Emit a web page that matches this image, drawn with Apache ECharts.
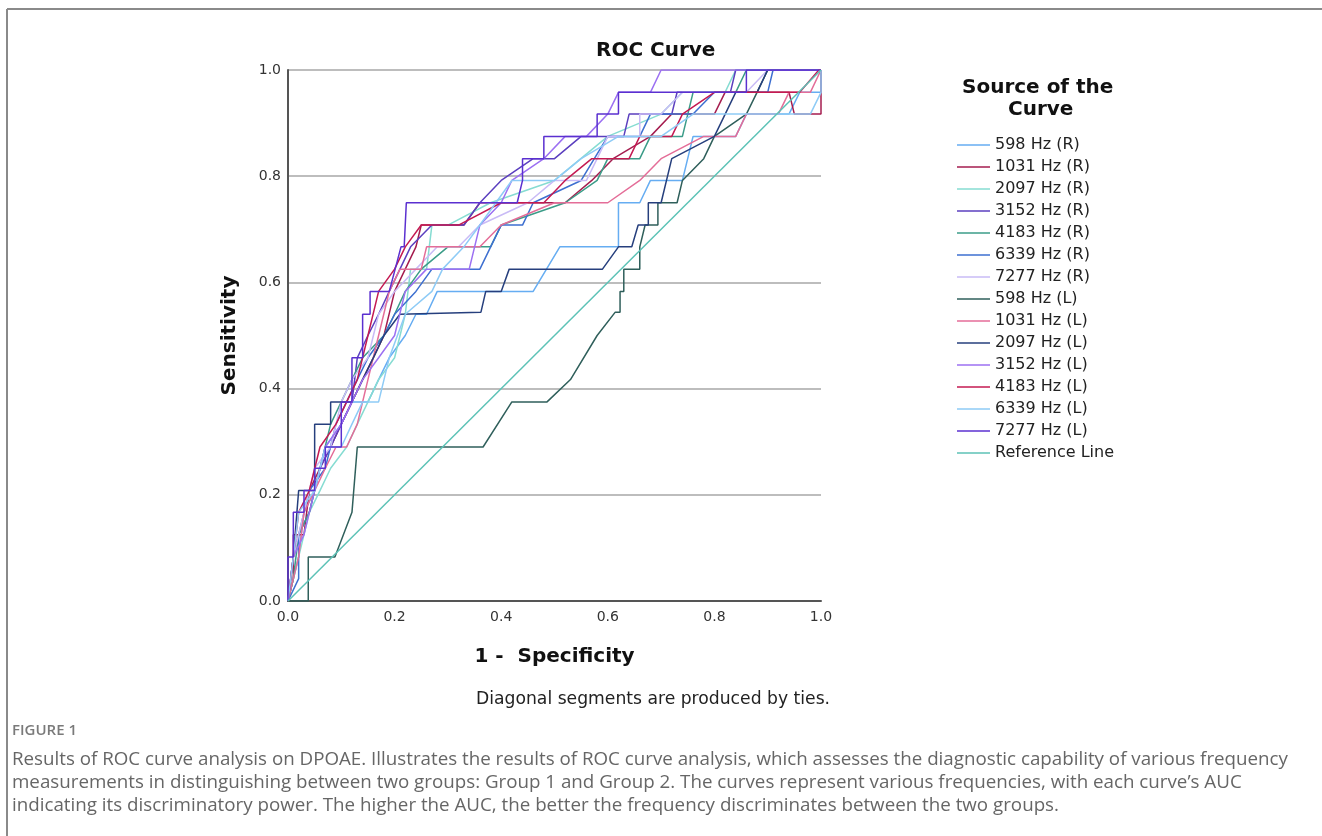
<!DOCTYPE html>
<html>
<head>
<meta charset="utf-8">
<title>ROC Curve</title>
<script src="https://cdn.jsdelivr.net/npm/echarts@6.0.0/dist/echarts.min.js"></script>
<style>
    html, body { margin: 0; padding: 0; background: #fff; }
    #RocChart { width: 1322px; height: 836px; }
</style>
</head>
<body>
<div id="RocChart"></div>
<script>
// series names and colours
var curveNames = ['598 Hz (R)', '1031 Hz (R)', '2097 Hz (R)', '3152 Hz (R)', '4183 Hz (R)', '6339 Hz (R)', '7277 Hz (R)',
                  '598 Hz (L)', '1031 Hz (L)', '2097 Hz (L)', '3152 Hz (L)', '4183 Hz (L)', '6339 Hz (L)', '7277 Hz (L)'];
var curveColors = ['#66adf2', '#a51d4f', '#86dcd2', '#5b3fbf', '#3b9c88', '#3d6fd0', '#c9bbf6',
                   '#2f5f5b', '#e46d98', '#263f7d', '#9c70f2', '#c41a52', '#8ecbf6', '#5b30d0'];
var axisTicks = [0, 0.2, 0.4, 0.6, 0.8, 1.0];

// [1 - specificity, sensitivity]
var hz598R = [[0,0],[0.02,0.083],[0.03,0.167],[0.05,0.208],[0.07,0.29],[0.1,0.333],[0.12,0.375],[0.15,0.375],[0.17,0.417],[0.19,0.458],[0.22,0.5],[0.24,0.54],[0.26,0.54],[0.28,0.583],[0.46,0.583],[0.51,0.667],[0.62,0.667],[0.62,0.75],[0.66,0.75],[0.68,0.792],[0.74,0.792],[0.76,0.875],[0.84,0.875],[0.86,0.917],[0.94,0.917],[0.96,0.958],[1,0.958],[1,1]];
var hz1031R = [[0,0],[0.01,0.042],[0.01,0.125],[0.03,0.125],[0.04,0.208],[0.06,0.25],[0.08,0.29],[0.1,0.333],[0.12,0.375],[0.14,0.417],[0.16,0.458],[0.18,0.5],[0.2,0.583],[0.22,0.625],[0.24,0.667],[0.25,0.708],[0.33,0.708],[0.36,0.75],[0.52,0.75],[0.57,0.792],[0.61,0.833],[0.68,0.875],[0.72,0.917],[0.8,0.917],[0.82,0.958],[0.94,0.958],[0.95,0.917],[1,0.917],[1,1]];
var hz2097R = [[0,0],[0.02,0.083],[0.04,0.167],[0.06,0.208],[0.08,0.25],[0.11,0.29],[0.13,0.333],[0.15,0.375],[0.17,0.417],[0.2,0.458],[0.22,0.54],[0.23,0.625],[0.26,0.625],[0.27,0.708],[0.3,0.708],[0.38,0.75],[0.5,0.792],[0.6,0.875],[0.7,0.917],[0.74,0.958],[0.82,0.958],[0.84,1],[1,1]];
var hz3152R = [[0,0],[0.01,0.083],[0.02,0.125],[0.04,0.167],[0.06,0.25],[0.08,0.29],[0.1,0.333],[0.12,0.375],[0.13,0.458],[0.15,0.5],[0.17,0.54],[0.19,0.583],[0.21,0.625],[0.23,0.667],[0.27,0.708],[0.33,0.708],[0.36,0.75],[0.4,0.792],[0.46,0.833],[0.5,0.833],[0.55,0.875],[0.63,0.875],[0.64,0.917],[0.72,0.917],[0.73,0.958],[0.83,0.958],[0.84,1],[1,1]];
var hz4183R = [[0,0],[0.01,0.042],[0.02,0.125],[0.04,0.167],[0.06,0.25],[0.08,0.333],[0.1,0.375],[0.12,0.417],[0.14,0.458],[0.18,0.5],[0.2,0.54],[0.22,0.583],[0.25,0.625],[0.3,0.667],[0.38,0.667],[0.4,0.708],[0.52,0.75],[0.58,0.792],[0.6,0.833],[0.66,0.833],[0.68,0.875],[0.74,0.875],[0.76,0.958],[0.84,0.958],[0.86,1],[1,1]];
var hz6339R = [[0,0],[0.02,0.042],[0.02,0.125],[0.04,0.208],[0.07,0.25],[0.09,0.333],[0.11,0.375],[0.13,0.417],[0.15,0.458],[0.18,0.5],[0.2,0.54],[0.24,0.583],[0.27,0.625],[0.36,0.625],[0.4,0.708],[0.44,0.708],[0.46,0.75],[0.55,0.792],[0.6,0.875],[0.66,0.875],[0.68,0.917],[0.76,0.917],[0.8,0.958],[0.9,0.958],[0.91,1],[1,1]];
var hz7277R = [[0,0],[0.01,0.083],[0.03,0.167],[0.05,0.25],[0.08,0.29],[0.1,0.375],[0.12,0.417],[0.15,0.458],[0.17,0.54],[0.2,0.583],[0.24,0.625],[0.28,0.667],[0.32,0.667],[0.36,0.708],[0.45,0.75],[0.5,0.792],[0.56,0.792],[0.58,0.833],[0.6,0.875],[0.66,0.875],[0.66,0.917],[0.7,0.917],[0.74,0.958],[0.86,0.958],[0.9,1],[1,1]];
var hz598L = [[0,0],[0.038,0],[0.038,0.083],[0.088,0.083],[0.12,0.167],[0.13,0.29],[0.366,0.29],[0.42,0.375],[0.486,0.375],[0.53,0.417],[0.58,0.5],[0.614,0.544],[0.623,0.544],[0.623,0.583],[0.63,0.583],[0.63,0.625],[0.66,0.625],[0.66,0.667],[0.67,0.708],[0.694,0.708],[0.694,0.75],[0.73,0.75],[0.74,0.792],[0.78,0.833],[0.8,0.875],[0.86,0.917],[0.88,0.958],[0.9,1],[1,1]];
var hz1031L = [[0,0],[0.01,0.042],[0.02,0.083],[0.03,0.167],[0.05,0.208],[0.07,0.25],[0.09,0.29],[0.11,0.29],[0.13,0.333],[0.15,0.417],[0.17,0.5],[0.19,0.583],[0.21,0.625],[0.25,0.625],[0.26,0.667],[0.36,0.667],[0.4,0.708],[0.5,0.75],[0.6,0.75],[0.66,0.792],[0.7,0.833],[0.78,0.875],[0.84,0.875],[0.86,0.917],[0.92,0.917],[0.94,0.958],[0.98,0.958],[1,1]];
var hz2097L = [[0,0],[0.01,0.083],[0.02,0.208],[0.05,0.208],[0.05,0.333],[0.08,0.333],[0.08,0.375],[0.12,0.375],[0.14,0.417],[0.16,0.458],[0.18,0.5],[0.21,0.54],[0.362,0.544],[0.371,0.583],[0.4,0.583],[0.415,0.625],[0.59,0.625],[0.62,0.667],[0.645,0.667],[0.657,0.708],[0.676,0.708],[0.676,0.75],[0.7,0.75],[0.72,0.833],[0.8,0.875],[0.84,0.958],[0.88,0.958],[0.9,1],[1,1]];
var hz3152L = [[0,0],[0.01,0.083],[0.03,0.125],[0.05,0.208],[0.07,0.29],[0.1,0.333],[0.12,0.375],[0.14,0.417],[0.17,0.458],[0.2,0.5],[0.22,0.583],[0.26,0.625],[0.34,0.625],[0.36,0.708],[0.4,0.75],[0.42,0.792],[0.48,0.833],[0.52,0.875],[0.56,0.875],[0.6,0.917],[0.62,0.958],[0.68,0.958],[0.7,1],[1,1]];
var hz4183L = [[0,0],[0.01,0.083],[0.02,0.167],[0.04,0.208],[0.06,0.29],[0.09,0.333],[0.11,0.375],[0.13,0.417],[0.15,0.5],[0.17,0.583],[0.2,0.625],[0.22,0.667],[0.25,0.708],[0.32,0.708],[0.4,0.75],[0.48,0.75],[0.52,0.792],[0.57,0.833],[0.64,0.833],[0.66,0.875],[0.72,0.875],[0.74,0.917],[0.8,0.958],[0.96,0.958],[0.996,1],[1,1]];
var hz6339L = [[0,0],[0.01,0.083],[0.02,0.167],[0.05,0.208],[0.07,0.29],[0.1,0.29],[0.12,0.333],[0.14,0.375],[0.17,0.375],[0.19,0.458],[0.22,0.54],[0.27,0.583],[0.29,0.625],[0.33,0.667],[0.36,0.708],[0.39,0.75],[0.42,0.792],[0.5,0.792],[0.55,0.833],[0.62,0.875],[0.7,0.875],[0.76,0.917],[0.98,0.917],[1,0.958],[1,1]];
var hz7277L = [[0,0],[0,0.083],[0.01,0.083],[0.01,0.167],[0.03,0.167],[0.03,0.208],[0.05,0.208],[0.05,0.25],[0.07,0.25],[0.07,0.29],[0.1,0.29],[0.1,0.375],[0.12,0.375],[0.12,0.458],[0.14,0.458],[0.14,0.54],[0.154,0.54],[0.154,0.583],[0.19,0.583],[0.205,0.64],[0.212,0.667],[0.218,0.667],[0.222,0.75],[0.43,0.75],[0.44,0.792],[0.44,0.833],[0.48,0.833],[0.48,0.875],[0.58,0.875],[0.58,0.917],[0.62,0.917],[0.62,0.958],[0.86,0.958],[0.86,1],[1,1]];
var referenceLine = [[0,0],[1,1]];

var curveData = [hz598R, hz1031R, hz2097R, hz3152R, hz4183R, hz6339R, hz7277R,
                 hz598L, hz1031L, hz2097L, hz3152L, hz4183L, hz6339L, hz7277L];

var captionLines = [
    'Results of ROC curve analysis on DPOAE. Illustrates the results of ROC curve analysis, which assesses the diagnostic capability of various frequency',
    'measurements in distinguishing between two groups: Group 1 and Group 2. The curves represent various frequencies, with each curve\u2019s AUC',
    'indicating its discriminatory power. The higher the AUC, the better the frequency discriminates between the two groups.'
];

LoadRocChart();

function LoadRocChart() {
    var myChart = echarts.init(document.getElementById('RocChart'));
    var spssFont = 'DejaVu Sans';

    var series = [];
    for (var i = 0; i < curveNames.length; i++) {
        series.push({
            name: curveNames[i],
            type: 'line',
            data: curveData[i],
            showSymbol: false,
            silent: true,
            lineStyle: { color: curveColors[i], width: 1.5 },
            itemStyle: { color: curveColors[i] }
        });
    }
    series.push({
        name: 'Reference Line',
        type: 'line',
        data: referenceLine,
        showSymbol: false,
        silent: true,
        lineStyle: { color: '#5cc2b6', width: 1.5 },
        itemStyle: { color: '#5cc2b6' }
    });

    var legendNames = curveNames.concat(['Reference Line']);

    // frame, titles and the caption under the figure
    var graphics = [
        { type: 'line', shape: { x1: 7, y1: 9, x2: 1322, y2: 9 }, style: { stroke: '#8a8a8a', lineWidth: 2 } },
        { type: 'line', shape: { x1: 7, y1: 9, x2: 7, y2: 836 }, style: { stroke: '#8a8a8a', lineWidth: 2 } },
        { type: 'text', left: 596, top: 41, style: { text: 'ROC Curve', font: 'bold 20px "DejaVu Sans"', fill: '#111' } },
        { type: 'text', left: 962, top: 78, style: { text: 'Source of the', font: 'bold 20px "DejaVu Sans"', fill: '#111' } },
        { type: 'text', left: 1008, top: 100, style: { text: 'Curve', font: 'bold 20px "DejaVu Sans"', fill: '#111' } },
        { type: 'text', left: 476, top: 691, style: { text: 'Diagonal segments are produced by ties.', font: '17.2px "DejaVu Sans"', fill: '#222' } },
        { type: 'text', left: 12, top: 723, style: { text: 'FIGURE 1', font: '600 15px "Open Sans"', fill: '#7a7a7a' } }
    ];
    for (var k = 0; k < captionLines.length; k++) {
        graphics.push({ type: 'text', left: 12, top: 750 + k * 23, style: { text: captionLines[k], font: '18.75px "Open Sans"', fill: '#666' } });
    }

    var option = {
        animation: false,
        textStyle: { fontFamily: spssFont },
        grid: {
            left: 288,
            right: 501,
            top: 70,
            bottom: 235
        },
        legend: {
            data: legendNames,
            orient: 'vertical',
            left: 957,
            top: 136,
            padding: 0,
            icon: 'rect',
            itemWidth: 33,
            itemHeight: 1.5,
            itemGap: 4,
            selectedMode: false,
            textStyle: { fontSize: 16, color: '#222', lineHeight: 18, fontFamily: spssFont }
        },
        xAxis: {
            type: 'value',
            min: 0,
            max: 1,
            interval: 0.2,
            name: '1 -  Specificity',
            nameLocation: 'middle',
            nameGap: 46,
            nameTextStyle: { fontSize: 20, fontWeight: 'bold', color: '#111' },
            axisLine: { lineStyle: { color: '#555', width: 2 } },
            axisTick: { show: false },
            splitLine: { show: false },
            axisLabel: {
                color: '#333',
                fontSize: 14,
                margin: 9,
                formatter: function (v) { return v.toFixed(1); }
            }
        },
        yAxis: {
            type: 'value',
            min: 0,
            max: 1,
            interval: 0.2,
            name: 'Sensitivity',
            nameLocation: 'middle',
            nameGap: 48,
            nameTextStyle: { fontSize: 20, fontWeight: 'bold', color: '#111' },
            axisLine: { show: true, lineStyle: { color: '#555', width: 2 } },
            axisTick: { show: false },
            splitLine: { lineStyle: { color: '#bdbdbd', width: 2 } },
            axisLabel: {
                color: '#333',
                fontSize: 14,
                margin: 7,
                formatter: function (v) { return v.toFixed(1); }
            }
        },
        graphic: graphics,
        series: series
    };
    myChart.setOption(option);
}
</script>
</body>
</html>
